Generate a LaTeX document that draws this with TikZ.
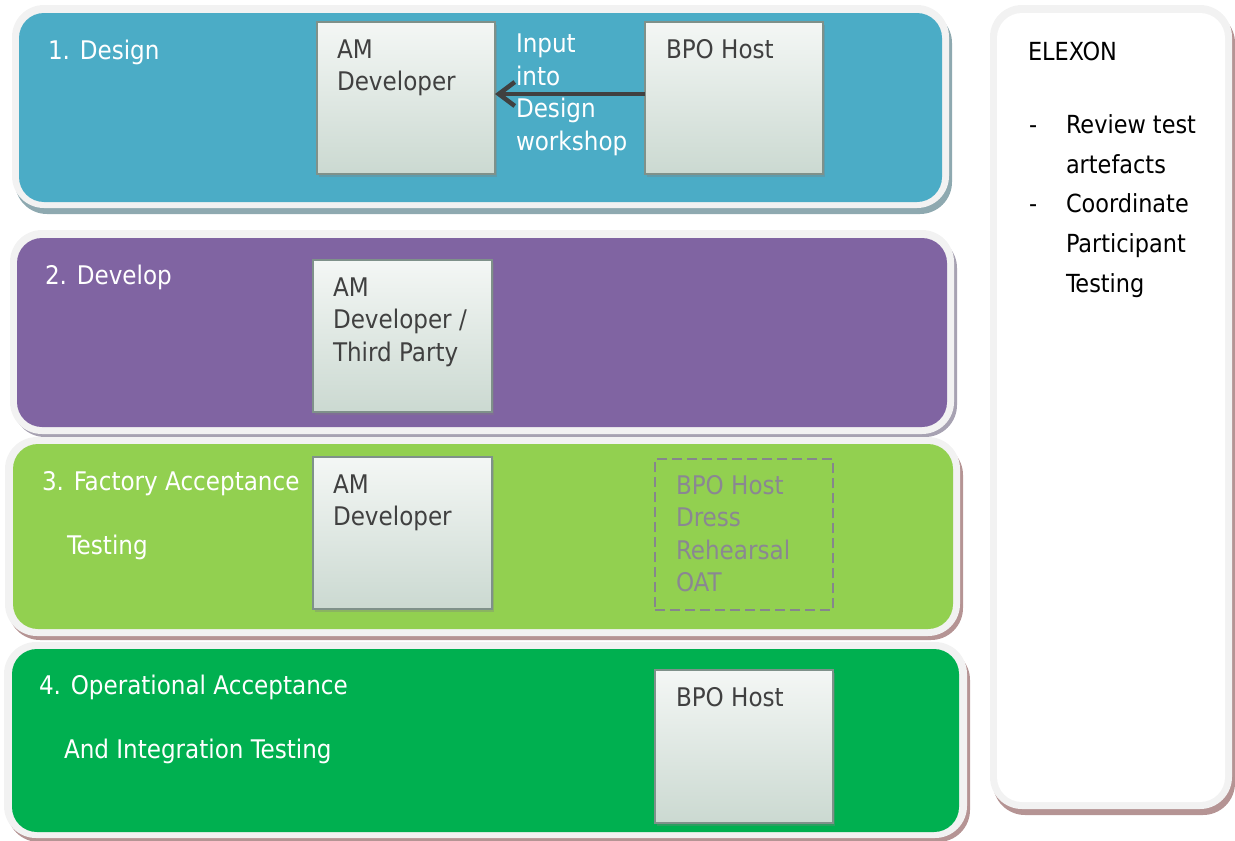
\documentclass[tikz,border=0pt]{standalone}
\usepackage{fontspec}
\setmainfont{DejaVu Sans Condensed}
\usetikzlibrary{arrows.meta,shadows}

\definecolor{rim}{HTML}{F2F2F2}
\definecolor{designblue}{HTML}{4BACC6}
\definecolor{developpurple}{HTML}{8064A2}
\definecolor{fatgreen}{HTML}{92D050}
\definecolor{oatgreen}{HTML}{00B050}
\definecolor{shadeblue}{HTML}{8EA9B0}
\definecolor{shadepurple}{HTML}{A7A2B2}
\definecolor{shadebrown}{HTML}{B59494}
\definecolor{boxtop}{HTML}{F4F7F5}
\definecolor{boxbottom}{HTML}{CBD9D1}
\definecolor{boxedge}{HTML}{7F918A}
\definecolor{boxtext}{HTML}{404040}
\definecolor{arrowgrey}{HTML}{404040}
\definecolor{ghost}{HTML}{8A8792}
\definecolor{ghostedge}{HTML}{86868C}

\begin{document}
\begin{tikzpicture}[x=1bp,y=-1bp,
  every node/.style={inner sep=0pt, outer sep=0pt},
  bigfont/.style={font=\fontsize{25.75}{32.5}\selectfont},
  bandlabel/.style={bigfont, anchor=base west, text=white},
  cardtext/.style={bigfont, anchor=base west, align=left, text=boxtext},
  sidetext/.style={font=\fontsize{25}{40}\selectfont, anchor=base west, align=left, text=black},
  card/.style={anchor=north west, draw=boxedge, line width=2bp,
    top color=boxtop, bottom color=boxbottom,
    drop shadow={opacity=0.35, shadow xshift=2bp, shadow yshift=-3bp}},
  ghostcard/.style={anchor=north west, draw=ghostedge, line width=2.5bp,
    dash pattern=on 10bp off 5bp},
  flow/.style={draw=arrowgrey, line width=4.5bp,
    -{Straight Barb[length=16bp,width=24bp]}}
]
\useasboundingbox (0,0) rectangle (1235,841);

% ---- stage bands: shadow, light rim, coloured body ----
\fill[shadeblue, rounded corners=32bp] (15,11) rectangle (952,214);
\fill[rim, rounded corners=32bp] (12,5) rectangle (949,208);
\fill[designblue, rounded corners=25bp] (19,13) rectangle (942,202);

\fill[shadepurple, rounded corners=32bp] (13,236) rectangle (957,437);
\fill[rim, rounded corners=32bp] (10,230) rectangle (954,434);
\fill[developpurple, rounded corners=25bp] (17,238) rectangle (947,427);

\fill[shadebrown, rounded corners=32bp] (8,443) rectangle (963,640);
\fill[rim, rounded corners=32bp] (5,437) rectangle (960,636);
\fill[fatgreen, rounded corners=25bp] (13,444) rectangle (953,629);

\fill[shadebrown, rounded corners=32bp] (7,648) rectangle (970,842);
\fill[rim, rounded corners=32bp] (4,642) rectangle (967,838);
\fill[oatgreen, rounded corners=25bp] (12,649) rectangle (959,832);

% ---- ELEXON side panel ----
\fill[shadebrown, rounded corners=32bp] (993,11) rectangle (1235,815);
\fill[rim, rounded corners=32bp] (990,5) rectangle (1232,809);
\fill[white, rounded corners=25bp] (997,13) rectangle (1225,802);

% ---- stage titles ----
\node[bandlabel] (t1) at (48,59) {1. Design};
\node[bandlabel] (t2) at (45,284) {2. Develop};
\node[bandlabel] (t3a) at (42,490) {3. Factory Acceptance};
\node[bandlabel] (t3b) at (67,554) {Testing};
\node[bandlabel] (t4a) at (39,694) {4. Operational Acceptance};
\node[bandlabel] (t4b) at (64,758) {And Integration Testing};

% ---- participant boxes ----
\node[card, minimum width=178bp, minimum height=152bp] (am1) at (317,22) {};
\node[card, minimum width=178bp, minimum height=152bp] (bpo1) at (645,22) {};
\node[card, minimum width=179bp, minimum height=152bp] (am2) at (313,260) {};
\node[card, minimum width=179bp, minimum height=152bp] (am3) at (313,457) {};
\node[ghostcard, minimum width=178bp, minimum height=151bp] (dress) at (655,459) {};
\node[card, minimum width=178bp, minimum height=153bp] (bpo4) at (655,670) {};

% multi-line texts are placed by the baseline of their last line
\node[cardtext] (am1txt) at (337,90.5) {AM\\Developer};
\node[cardtext] (bpo1txt) at (666,58) {BPO Host};
\node[cardtext] (am2txt) at (333,361) {AM\\Developer /\\Third Party};
\node[cardtext] (am3txt) at (333,525.5) {AM\\Developer};
\node[cardtext, text=ghost] (dresstxt) at (676,591.5) {BPO Host\\Dress\\Rehearsal\\OAT};
\node[cardtext] (bpo4txt) at (676,706) {BPO Host};

% ---- design workshop input ----
\draw[flow] ([yshift=4bp]bpo1.west) -- ([yshift=4bp]am1.east);
\node[bandlabel, align=left] (input) at (516,150) {Input\\into\\Design\\workshop};

% ---- ELEXON responsibilities ----
\node[sidetext] (elexon) at (1028,60) {ELEXON};
\node[sidetext] (dash1) at (1029,133) {-};
\node[sidetext] (item1) at (1066,173) {Review test\\artefacts};
\node[sidetext] (dash2) at (1029,212) {-};
\node[sidetext] (item2) at (1066,292) {Coordinate\\Participant\\Testing};
\end{tikzpicture}
\end{document}
